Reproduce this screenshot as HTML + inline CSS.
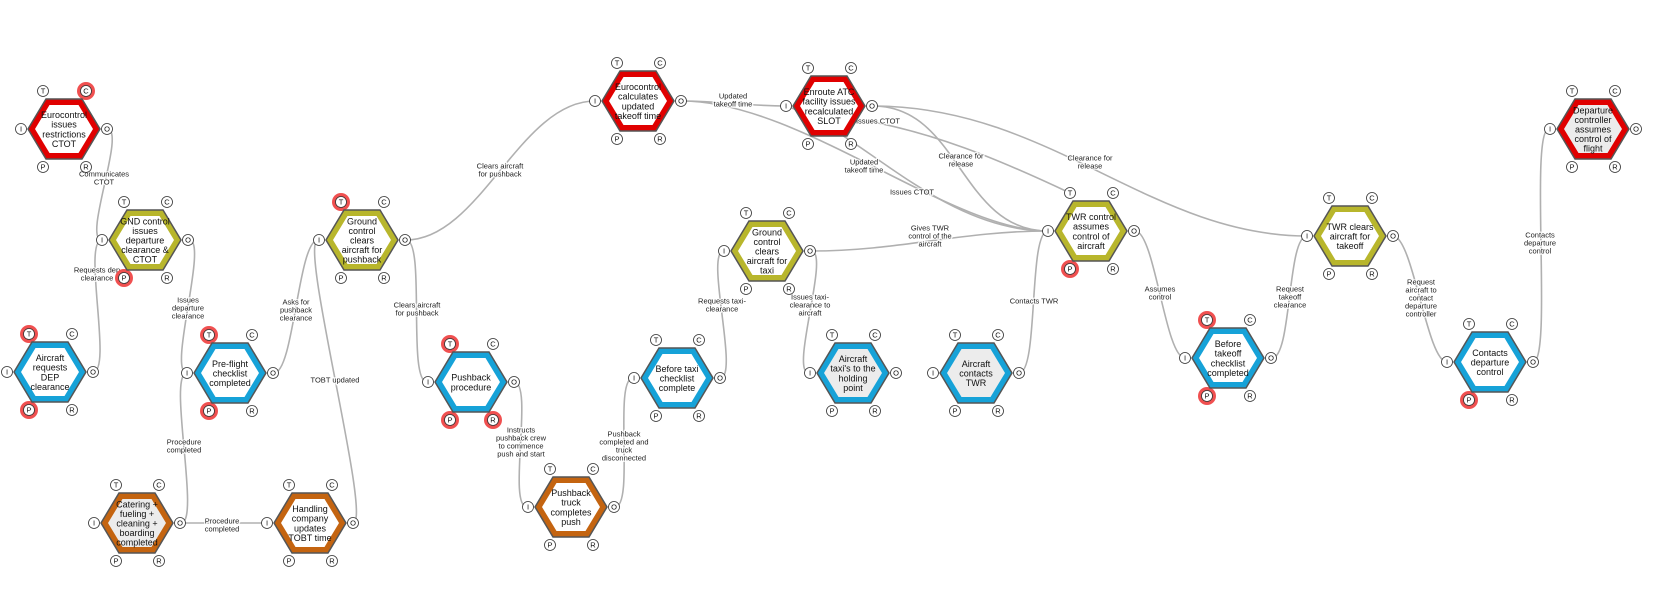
<!DOCTYPE html>
<html><head><meta charset="utf-8"><style>
html,body{margin:0;padding:0;background:#fff;}
svg{display:block;font-family:"Liberation Sans",sans-serif;}
.e{fill:none;stroke:#b0b0b0;stroke-width:1.6;}
.l{font-size:7.5px;fill:#222;text-anchor:middle;stroke:#fff;stroke-width:2.5px;paint-order:stroke;stroke-opacity:.85;}
.t{font-size:9px;fill:#111;text-anchor:middle;}
.pc{fill:#fff;stroke:#333;stroke-width:.8;}
.pt{font-size:7.5px;fill:#111;text-anchor:middle;}
.h{fill:#f05050;}
.ol{stroke:#555;stroke-width:1.5;}
</style></head><body>
<svg width="1663" height="592" viewBox="0 0 1663 592" xmlns="http://www.w3.org/2000/svg">
<defs>
<polygon id="ho" points="-36,0 -18,-30 18,-30 36,0 18,30 -18,30"/>
<polygon id="hi" points="-29,0 -14.5,-24 14.5,-24 29,0 14.5,24 -14.5,24"/>
</defs>

<path class="e" d="M107,129 C127,129 82,240 102,240"/>
<path class="e" d="M93,372 C113,372 82,240 102,240"/>
<path class="e" d="M189,240 C209,240 167,373 187,373"/>
<path class="e" d="M274,373 C294,373 298,240 318,240"/>
<path class="e" d="M181,523 C201,523 167,373 187,373"/>
<path class="e" d="M181,523 C215,523 232,523 266,523"/>
<path class="e" d="M353,523 C373,523 298,240 318,240"/>
<path class="e" d="M406,240 C480,240 520,101 595,101"/>
<path class="e" d="M406,240 C426,240 407,382 427,382"/>
<path class="e" d="M514,382 C534,382 507,507 527,507"/>
<path class="e" d="M615,507 C635,507 613,378 633,378"/>
<path class="e" d="M720,378 C740,378 704,251 724,251"/>
<path class="e" d="M811,251 C831,251 789,373 809,373"/>
<path class="e" d="M811,251 C900,251 960,231 1048,231"/>
<path class="e" d="M682,101 C720,101 748,106 786,106"/>
<path class="e" d="M682,101 C800,101 950,231 1048,231"/>
<path class="e" d="M786,106 C860,130 940,231 1048,231"/>
<path class="e" d="M873,106 C960,106 960,231 1048,231"/>
<path class="e" d="M873,106 C1050,106 1150,236 1307,236"/>
<path class="e" d="M850,118 C930,130 1000,160 1070,193"/>
<path class="e" d="M1019,373 C1039,373 1028,231 1048,231"/>
<path class="e" d="M1135,231 C1155,231 1165,358 1185,358"/>
<path class="e" d="M1272,358 C1292,358 1287,236 1307,236"/>
<path class="e" d="M1393,236 C1413,236 1427,362 1447,362"/>
<path class="e" d="M1533,362 C1553,362 1529,129 1549,129"/>

<text class="l"><tspan x="104" y="176.7">Communicates</tspan><tspan x="104" y="184.7">CTOT</tspan></text>
<text class="l"><tspan x="97" y="272.7">Requests dep</tspan><tspan x="97" y="280.7">clearance</tspan></text>
<text class="l"><tspan x="188" y="302.7">Issues</tspan><tspan x="188" y="310.7">departure</tspan><tspan x="188" y="318.7">clearance</tspan></text>
<text class="l"><tspan x="296" y="304.7">Asks for</tspan><tspan x="296" y="312.7">pushback</tspan><tspan x="296" y="320.7">clearance</tspan></text>
<text class="l"><tspan x="184" y="444.7">Procedure</tspan><tspan x="184" y="452.7">completed</tspan></text>
<text class="l"><tspan x="222" y="523.7">Procedure</tspan><tspan x="222" y="531.7">completed</tspan></text>
<text class="l"><tspan x="335" y="382.7">TOBT updated</tspan></text>
<text class="l"><tspan x="500" y="168.7">Clears aircraft</tspan><tspan x="500" y="176.7">for pushback</tspan></text>
<text class="l"><tspan x="417" y="307.7">Clears aircraft</tspan><tspan x="417" y="315.7">for pushback</tspan></text>
<text class="l"><tspan x="521" y="432.7">Instructs</tspan><tspan x="521" y="440.7">pushback crew</tspan><tspan x="521" y="448.7">to commence</tspan><tspan x="521" y="456.7">push and start</tspan></text>
<text class="l"><tspan x="624" y="436.7">Pushback</tspan><tspan x="624" y="444.7">completed and</tspan><tspan x="624" y="452.7">truck</tspan><tspan x="624" y="460.7">disconnected</tspan></text>
<text class="l"><tspan x="722" y="303.7">Requests taxi-</tspan><tspan x="722" y="311.7">clearance</tspan></text>
<text class="l"><tspan x="810" y="299.7">Issues taxi-</tspan><tspan x="810" y="307.7">clearance to</tspan><tspan x="810" y="315.7">aircraft</tspan></text>
<text class="l"><tspan x="930" y="230.7">Gives TWR</tspan><tspan x="930" y="238.7">control of the</tspan><tspan x="930" y="246.7">aircraft</tspan></text>
<text class="l"><tspan x="733" y="98.7">Updated</tspan><tspan x="733" y="106.7">takeoff time</tspan></text>
<text class="l"><tspan x="864" y="164.7">Updated</tspan><tspan x="864" y="172.7">takeoff time</tspan></text>
<text class="l"><tspan x="912" y="194.7">Issues CTOT</tspan></text>
<text class="l"><tspan x="961" y="158.7">Clearance for</tspan><tspan x="961" y="166.7">release</tspan></text>
<text class="l"><tspan x="1090" y="160.7">Clearance for</tspan><tspan x="1090" y="168.7">release</tspan></text>
<text class="l"><tspan x="878" y="123.7">Issues CTOT</tspan></text>
<text class="l"><tspan x="1034" y="303.7">Contacts TWR</tspan></text>
<text class="l"><tspan x="1160" y="291.7">Assumes</tspan><tspan x="1160" y="299.7">control</tspan></text>
<text class="l"><tspan x="1290" y="291.7">Request</tspan><tspan x="1290" y="299.7">takeoff</tspan><tspan x="1290" y="307.7">clearance</tspan></text>
<text class="l"><tspan x="1421" y="284.7">Request</tspan><tspan x="1421" y="292.7">aircraft to</tspan><tspan x="1421" y="300.7">contact</tspan><tspan x="1421" y="308.7">departure</tspan><tspan x="1421" y="316.7">controller</tspan></text>
<text class="l"><tspan x="1540" y="237.7">Contacts</tspan><tspan x="1540" y="245.7">departure</tspan><tspan x="1540" y="253.7">control</tspan></text>

<g transform="translate(64,129)">
<circle class="h" cx="22" cy="-38" r="9"/>
<use href="#ho" fill="#e00000" class="ol"/><use href="#hi" fill="#fff"/>
<text class="t"><tspan x="0" y="-10.9">Eurocontrol</tspan><tspan x="0" y="-1.3">issues</tspan><tspan x="0" y="8.3">restrictions</tspan><tspan x="0" y="17.9">CTOT</tspan></text>
<g><circle class="pc" cx="-43" cy="0" r="5.5"/><text class="pt" x="-43" y="2.6">I</text><circle class="pc" cx="43" cy="0" r="5.5"/><text class="pt" x="43" y="2.6">O</text><circle class="pc" cx="-21" cy="-38" r="5.5"/><text class="pt" x="-21" y="-35.4">T</text><circle class="pc" cx="22" cy="-38" r="5.5"/><text class="pt" x="22" y="-35.4">C</text><circle class="pc" cx="-21" cy="38" r="5.5"/><text class="pt" x="-21" y="40.6">P</text><circle class="pc" cx="22" cy="38" r="5.5"/><text class="pt" x="22" y="40.6">R</text></g>
</g>
<g transform="translate(145,240)">
<circle class="h" cx="-21" cy="38" r="9"/>
<use href="#ho" fill="#b8b62c" class="ol"/><use href="#hi" fill="#fff"/>
<text class="t"><tspan x="0" y="-15.7">GND control</tspan><tspan x="0" y="-6.1">issues</tspan><tspan x="0" y="3.5">departure</tspan><tspan x="0" y="13.1">clearance &amp;</tspan><tspan x="0" y="22.7">CTOT</tspan></text>
<g><circle class="pc" cx="-43" cy="0" r="5.5"/><text class="pt" x="-43" y="2.6">I</text><circle class="pc" cx="43" cy="0" r="5.5"/><text class="pt" x="43" y="2.6">O</text><circle class="pc" cx="-21" cy="-38" r="5.5"/><text class="pt" x="-21" y="-35.4">T</text><circle class="pc" cx="22" cy="-38" r="5.5"/><text class="pt" x="22" y="-35.4">C</text><circle class="pc" cx="-21" cy="38" r="5.5"/><text class="pt" x="-21" y="40.6">P</text><circle class="pc" cx="22" cy="38" r="5.5"/><text class="pt" x="22" y="40.6">R</text></g>
</g>
<g transform="translate(50,372)">
<circle class="h" cx="-21" cy="-38" r="9"/><circle class="h" cx="-21" cy="38" r="9"/>
<use href="#ho" fill="#16a2d8" class="ol"/><use href="#hi" fill="#fff"/>
<text class="t"><tspan x="0" y="-10.9">Aircraft</tspan><tspan x="0" y="-1.3">requests</tspan><tspan x="0" y="8.3">DEP</tspan><tspan x="0" y="17.9">clearance</tspan></text>
<g><circle class="pc" cx="-43" cy="0" r="5.5"/><text class="pt" x="-43" y="2.6">I</text><circle class="pc" cx="43" cy="0" r="5.5"/><text class="pt" x="43" y="2.6">O</text><circle class="pc" cx="-21" cy="-38" r="5.5"/><text class="pt" x="-21" y="-35.4">T</text><circle class="pc" cx="22" cy="-38" r="5.5"/><text class="pt" x="22" y="-35.4">C</text><circle class="pc" cx="-21" cy="38" r="5.5"/><text class="pt" x="-21" y="40.6">P</text><circle class="pc" cx="22" cy="38" r="5.5"/><text class="pt" x="22" y="40.6">R</text></g>
</g>
<g transform="translate(230,373)">
<circle class="h" cx="-21" cy="-38" r="9"/><circle class="h" cx="-21" cy="38" r="9"/>
<use href="#ho" fill="#16a2d8" class="ol"/><use href="#hi" fill="#fff"/>
<text class="t"><tspan x="0" y="-6.1">Pre-flight</tspan><tspan x="0" y="3.5">checklist</tspan><tspan x="0" y="13.1">completed</tspan></text>
<g><circle class="pc" cx="-43" cy="0" r="5.5"/><text class="pt" x="-43" y="2.6">I</text><circle class="pc" cx="43" cy="0" r="5.5"/><text class="pt" x="43" y="2.6">O</text><circle class="pc" cx="-21" cy="-38" r="5.5"/><text class="pt" x="-21" y="-35.4">T</text><circle class="pc" cx="22" cy="-38" r="5.5"/><text class="pt" x="22" y="-35.4">C</text><circle class="pc" cx="-21" cy="38" r="5.5"/><text class="pt" x="-21" y="40.6">P</text><circle class="pc" cx="22" cy="38" r="5.5"/><text class="pt" x="22" y="40.6">R</text></g>
</g>
<g transform="translate(362,240)">
<circle class="h" cx="-21" cy="-38" r="9"/>
<use href="#ho" fill="#b8b62c" class="ol"/><use href="#hi" fill="#fff"/>
<text class="t"><tspan x="0" y="-15.7">Ground</tspan><tspan x="0" y="-6.1">control</tspan><tspan x="0" y="3.5">clears</tspan><tspan x="0" y="13.1">aircraft for</tspan><tspan x="0" y="22.7">pushback</tspan></text>
<g><circle class="pc" cx="-43" cy="0" r="5.5"/><text class="pt" x="-43" y="2.6">I</text><circle class="pc" cx="43" cy="0" r="5.5"/><text class="pt" x="43" y="2.6">O</text><circle class="pc" cx="-21" cy="-38" r="5.5"/><text class="pt" x="-21" y="-35.4">T</text><circle class="pc" cx="22" cy="-38" r="5.5"/><text class="pt" x="22" y="-35.4">C</text><circle class="pc" cx="-21" cy="38" r="5.5"/><text class="pt" x="-21" y="40.6">P</text><circle class="pc" cx="22" cy="38" r="5.5"/><text class="pt" x="22" y="40.6">R</text></g>
</g>
<g transform="translate(137,523)">
<use href="#ho" fill="#c46410" class="ol"/><use href="#hi" fill="#ececec"/>
<text class="t"><tspan x="0" y="-15.7">Catering +</tspan><tspan x="0" y="-6.1">fueling +</tspan><tspan x="0" y="3.5">cleaning +</tspan><tspan x="0" y="13.1">boarding</tspan><tspan x="0" y="22.7">completed</tspan></text>
<g><circle class="pc" cx="-43" cy="0" r="5.5"/><text class="pt" x="-43" y="2.6">I</text><circle class="pc" cx="43" cy="0" r="5.5"/><text class="pt" x="43" y="2.6">O</text><circle class="pc" cx="-21" cy="-38" r="5.5"/><text class="pt" x="-21" y="-35.4">T</text><circle class="pc" cx="22" cy="-38" r="5.5"/><text class="pt" x="22" y="-35.4">C</text><circle class="pc" cx="-21" cy="38" r="5.5"/><text class="pt" x="-21" y="40.6">P</text><circle class="pc" cx="22" cy="38" r="5.5"/><text class="pt" x="22" y="40.6">R</text></g>
</g>
<g transform="translate(310,523)">
<use href="#ho" fill="#c46410" class="ol"/><use href="#hi" fill="#fff"/>
<text class="t"><tspan x="0" y="-10.9">Handling</tspan><tspan x="0" y="-1.3">company</tspan><tspan x="0" y="8.3">updates</tspan><tspan x="0" y="17.9">TOBT time</tspan></text>
<g><circle class="pc" cx="-43" cy="0" r="5.5"/><text class="pt" x="-43" y="2.6">I</text><circle class="pc" cx="43" cy="0" r="5.5"/><text class="pt" x="43" y="2.6">O</text><circle class="pc" cx="-21" cy="-38" r="5.5"/><text class="pt" x="-21" y="-35.4">T</text><circle class="pc" cx="22" cy="-38" r="5.5"/><text class="pt" x="22" y="-35.4">C</text><circle class="pc" cx="-21" cy="38" r="5.5"/><text class="pt" x="-21" y="40.6">P</text><circle class="pc" cx="22" cy="38" r="5.5"/><text class="pt" x="22" y="40.6">R</text></g>
</g>
<g transform="translate(471,382)">
<circle class="h" cx="-21" cy="-38" r="9"/><circle class="h" cx="-21" cy="38" r="9"/><circle class="h" cx="22" cy="38" r="9"/>
<use href="#ho" fill="#16a2d8" class="ol"/><use href="#hi" fill="#fff"/>
<text class="t"><tspan x="0" y="-1.3">Pushback</tspan><tspan x="0" y="8.3">procedure</tspan></text>
<g><circle class="pc" cx="-43" cy="0" r="5.5"/><text class="pt" x="-43" y="2.6">I</text><circle class="pc" cx="43" cy="0" r="5.5"/><text class="pt" x="43" y="2.6">O</text><circle class="pc" cx="-21" cy="-38" r="5.5"/><text class="pt" x="-21" y="-35.4">T</text><circle class="pc" cx="22" cy="-38" r="5.5"/><text class="pt" x="22" y="-35.4">C</text><circle class="pc" cx="-21" cy="38" r="5.5"/><text class="pt" x="-21" y="40.6">P</text><circle class="pc" cx="22" cy="38" r="5.5"/><text class="pt" x="22" y="40.6">R</text></g>
</g>
<g transform="translate(571,507)">
<use href="#ho" fill="#c46410" class="ol"/><use href="#hi" fill="#fff"/>
<text class="t"><tspan x="0" y="-10.9">Pushback</tspan><tspan x="0" y="-1.3">truck</tspan><tspan x="0" y="8.3">completes</tspan><tspan x="0" y="17.9">push</tspan></text>
<g><circle class="pc" cx="-43" cy="0" r="5.5"/><text class="pt" x="-43" y="2.6">I</text><circle class="pc" cx="43" cy="0" r="5.5"/><text class="pt" x="43" y="2.6">O</text><circle class="pc" cx="-21" cy="-38" r="5.5"/><text class="pt" x="-21" y="-35.4">T</text><circle class="pc" cx="22" cy="-38" r="5.5"/><text class="pt" x="22" y="-35.4">C</text><circle class="pc" cx="-21" cy="38" r="5.5"/><text class="pt" x="-21" y="40.6">P</text><circle class="pc" cx="22" cy="38" r="5.5"/><text class="pt" x="22" y="40.6">R</text></g>
</g>
<g transform="translate(677,378)">
<use href="#ho" fill="#16a2d8" class="ol"/><use href="#hi" fill="#fff"/>
<text class="t"><tspan x="0" y="-6.1">Before taxi</tspan><tspan x="0" y="3.5">checklist</tspan><tspan x="0" y="13.1">complete</tspan></text>
<g><circle class="pc" cx="-43" cy="0" r="5.5"/><text class="pt" x="-43" y="2.6">I</text><circle class="pc" cx="43" cy="0" r="5.5"/><text class="pt" x="43" y="2.6">O</text><circle class="pc" cx="-21" cy="-38" r="5.5"/><text class="pt" x="-21" y="-35.4">T</text><circle class="pc" cx="22" cy="-38" r="5.5"/><text class="pt" x="22" y="-35.4">C</text><circle class="pc" cx="-21" cy="38" r="5.5"/><text class="pt" x="-21" y="40.6">P</text><circle class="pc" cx="22" cy="38" r="5.5"/><text class="pt" x="22" y="40.6">R</text></g>
</g>
<g transform="translate(638,101)">
<use href="#ho" fill="#e00000" class="ol"/><use href="#hi" fill="#fff"/>
<text class="t"><tspan x="0" y="-10.9">Eurocontrol</tspan><tspan x="0" y="-1.3">calculates</tspan><tspan x="0" y="8.3">updated</tspan><tspan x="0" y="17.9">takeoff time</tspan></text>
<g><circle class="pc" cx="-43" cy="0" r="5.5"/><text class="pt" x="-43" y="2.6">I</text><circle class="pc" cx="43" cy="0" r="5.5"/><text class="pt" x="43" y="2.6">O</text><circle class="pc" cx="-21" cy="-38" r="5.5"/><text class="pt" x="-21" y="-35.4">T</text><circle class="pc" cx="22" cy="-38" r="5.5"/><text class="pt" x="22" y="-35.4">C</text><circle class="pc" cx="-21" cy="38" r="5.5"/><text class="pt" x="-21" y="40.6">P</text><circle class="pc" cx="22" cy="38" r="5.5"/><text class="pt" x="22" y="40.6">R</text></g>
</g>
<g transform="translate(829,106)">
<use href="#ho" fill="#e00000" class="ol"/><use href="#hi" fill="#fff"/>
<text class="t"><tspan x="0" y="-10.9">Enroute ATC</tspan><tspan x="0" y="-1.3">facility issues</tspan><tspan x="0" y="8.3">recalculated</tspan><tspan x="0" y="17.9">SLOT</tspan></text>
<g><circle class="pc" cx="-43" cy="0" r="5.5"/><text class="pt" x="-43" y="2.6">I</text><circle class="pc" cx="43" cy="0" r="5.5"/><text class="pt" x="43" y="2.6">O</text><circle class="pc" cx="-21" cy="-38" r="5.5"/><text class="pt" x="-21" y="-35.4">T</text><circle class="pc" cx="22" cy="-38" r="5.5"/><text class="pt" x="22" y="-35.4">C</text><circle class="pc" cx="-21" cy="38" r="5.5"/><text class="pt" x="-21" y="40.6">P</text><circle class="pc" cx="22" cy="38" r="5.5"/><text class="pt" x="22" y="40.6">R</text></g>
</g>
<g transform="translate(767,251)">
<use href="#ho" fill="#b8b62c" class="ol"/><use href="#hi" fill="#fff"/>
<text class="t"><tspan x="0" y="-15.7">Ground</tspan><tspan x="0" y="-6.1">control</tspan><tspan x="0" y="3.5">clears</tspan><tspan x="0" y="13.1">aircraft for</tspan><tspan x="0" y="22.7">taxi</tspan></text>
<g><circle class="pc" cx="-43" cy="0" r="5.5"/><text class="pt" x="-43" y="2.6">I</text><circle class="pc" cx="43" cy="0" r="5.5"/><text class="pt" x="43" y="2.6">O</text><circle class="pc" cx="-21" cy="-38" r="5.5"/><text class="pt" x="-21" y="-35.4">T</text><circle class="pc" cx="22" cy="-38" r="5.5"/><text class="pt" x="22" y="-35.4">C</text><circle class="pc" cx="-21" cy="38" r="5.5"/><text class="pt" x="-21" y="40.6">P</text><circle class="pc" cx="22" cy="38" r="5.5"/><text class="pt" x="22" y="40.6">R</text></g>
</g>
<g transform="translate(853,373)">
<use href="#ho" fill="#16a2d8" class="ol"/><use href="#hi" fill="#ececec"/>
<text class="t"><tspan x="0" y="-10.9">Aircraft</tspan><tspan x="0" y="-1.3">taxi's to the</tspan><tspan x="0" y="8.3">holding</tspan><tspan x="0" y="17.9">point</tspan></text>
<g><circle class="pc" cx="-43" cy="0" r="5.5"/><text class="pt" x="-43" y="2.6">I</text><circle class="pc" cx="43" cy="0" r="5.5"/><text class="pt" x="43" y="2.6">O</text><circle class="pc" cx="-21" cy="-38" r="5.5"/><text class="pt" x="-21" y="-35.4">T</text><circle class="pc" cx="22" cy="-38" r="5.5"/><text class="pt" x="22" y="-35.4">C</text><circle class="pc" cx="-21" cy="38" r="5.5"/><text class="pt" x="-21" y="40.6">P</text><circle class="pc" cx="22" cy="38" r="5.5"/><text class="pt" x="22" y="40.6">R</text></g>
</g>
<g transform="translate(976,373)">
<use href="#ho" fill="#16a2d8" class="ol"/><use href="#hi" fill="#ececec"/>
<text class="t"><tspan x="0" y="-6.1">Aircraft</tspan><tspan x="0" y="3.5">contacts</tspan><tspan x="0" y="13.1">TWR</tspan></text>
<g><circle class="pc" cx="-43" cy="0" r="5.5"/><text class="pt" x="-43" y="2.6">I</text><circle class="pc" cx="43" cy="0" r="5.5"/><text class="pt" x="43" y="2.6">O</text><circle class="pc" cx="-21" cy="-38" r="5.5"/><text class="pt" x="-21" y="-35.4">T</text><circle class="pc" cx="22" cy="-38" r="5.5"/><text class="pt" x="22" y="-35.4">C</text><circle class="pc" cx="-21" cy="38" r="5.5"/><text class="pt" x="-21" y="40.6">P</text><circle class="pc" cx="22" cy="38" r="5.5"/><text class="pt" x="22" y="40.6">R</text></g>
</g>
<g transform="translate(1091,231)">
<circle class="h" cx="-21" cy="38" r="9"/>
<use href="#ho" fill="#b8b62c" class="ol"/><use href="#hi" fill="#fff"/>
<text class="t"><tspan x="0" y="-10.9">TWR control</tspan><tspan x="0" y="-1.3">assumes</tspan><tspan x="0" y="8.3">control of</tspan><tspan x="0" y="17.9">aircraft</tspan></text>
<g><circle class="pc" cx="-43" cy="0" r="5.5"/><text class="pt" x="-43" y="2.6">I</text><circle class="pc" cx="43" cy="0" r="5.5"/><text class="pt" x="43" y="2.6">O</text><circle class="pc" cx="-21" cy="-38" r="5.5"/><text class="pt" x="-21" y="-35.4">T</text><circle class="pc" cx="22" cy="-38" r="5.5"/><text class="pt" x="22" y="-35.4">C</text><circle class="pc" cx="-21" cy="38" r="5.5"/><text class="pt" x="-21" y="40.6">P</text><circle class="pc" cx="22" cy="38" r="5.5"/><text class="pt" x="22" y="40.6">R</text></g>
</g>
<g transform="translate(1228,358)">
<circle class="h" cx="-21" cy="-38" r="9"/><circle class="h" cx="-21" cy="38" r="9"/>
<use href="#ho" fill="#16a2d8" class="ol"/><use href="#hi" fill="#fff"/>
<text class="t"><tspan x="0" y="-10.9">Before</tspan><tspan x="0" y="-1.3">takeoff</tspan><tspan x="0" y="8.3">checklist</tspan><tspan x="0" y="17.9">completed</tspan></text>
<g><circle class="pc" cx="-43" cy="0" r="5.5"/><text class="pt" x="-43" y="2.6">I</text><circle class="pc" cx="43" cy="0" r="5.5"/><text class="pt" x="43" y="2.6">O</text><circle class="pc" cx="-21" cy="-38" r="5.5"/><text class="pt" x="-21" y="-35.4">T</text><circle class="pc" cx="22" cy="-38" r="5.5"/><text class="pt" x="22" y="-35.4">C</text><circle class="pc" cx="-21" cy="38" r="5.5"/><text class="pt" x="-21" y="40.6">P</text><circle class="pc" cx="22" cy="38" r="5.5"/><text class="pt" x="22" y="40.6">R</text></g>
</g>
<g transform="translate(1350,236)">
<use href="#ho" fill="#b8b62c" class="ol"/><use href="#hi" fill="#fff"/>
<text class="t"><tspan x="0" y="-6.1">TWR clears</tspan><tspan x="0" y="3.5">aircraft for</tspan><tspan x="0" y="13.1">takeoff</tspan></text>
<g><circle class="pc" cx="-43" cy="0" r="5.5"/><text class="pt" x="-43" y="2.6">I</text><circle class="pc" cx="43" cy="0" r="5.5"/><text class="pt" x="43" y="2.6">O</text><circle class="pc" cx="-21" cy="-38" r="5.5"/><text class="pt" x="-21" y="-35.4">T</text><circle class="pc" cx="22" cy="-38" r="5.5"/><text class="pt" x="22" y="-35.4">C</text><circle class="pc" cx="-21" cy="38" r="5.5"/><text class="pt" x="-21" y="40.6">P</text><circle class="pc" cx="22" cy="38" r="5.5"/><text class="pt" x="22" y="40.6">R</text></g>
</g>
<g transform="translate(1490,362)">
<circle class="h" cx="-21" cy="38" r="9"/>
<use href="#ho" fill="#16a2d8" class="ol"/><use href="#hi" fill="#fff"/>
<text class="t"><tspan x="0" y="-6.1">Contacts</tspan><tspan x="0" y="3.5">departure</tspan><tspan x="0" y="13.1">control</tspan></text>
<g><circle class="pc" cx="-43" cy="0" r="5.5"/><text class="pt" x="-43" y="2.6">I</text><circle class="pc" cx="43" cy="0" r="5.5"/><text class="pt" x="43" y="2.6">O</text><circle class="pc" cx="-21" cy="-38" r="5.5"/><text class="pt" x="-21" y="-35.4">T</text><circle class="pc" cx="22" cy="-38" r="5.5"/><text class="pt" x="22" y="-35.4">C</text><circle class="pc" cx="-21" cy="38" r="5.5"/><text class="pt" x="-21" y="40.6">P</text><circle class="pc" cx="22" cy="38" r="5.5"/><text class="pt" x="22" y="40.6">R</text></g>
</g>
<g transform="translate(1593,129)">
<use href="#ho" fill="#e00000" class="ol"/><use href="#hi" fill="#ececec"/>
<text class="t"><tspan x="0" y="-15.7">Departure</tspan><tspan x="0" y="-6.1">controller</tspan><tspan x="0" y="3.5">assumes</tspan><tspan x="0" y="13.1">control of</tspan><tspan x="0" y="22.7">flight</tspan></text>
<g><circle class="pc" cx="-43" cy="0" r="5.5"/><text class="pt" x="-43" y="2.6">I</text><circle class="pc" cx="43" cy="0" r="5.5"/><text class="pt" x="43" y="2.6">O</text><circle class="pc" cx="-21" cy="-38" r="5.5"/><text class="pt" x="-21" y="-35.4">T</text><circle class="pc" cx="22" cy="-38" r="5.5"/><text class="pt" x="22" y="-35.4">C</text><circle class="pc" cx="-21" cy="38" r="5.5"/><text class="pt" x="-21" y="40.6">P</text><circle class="pc" cx="22" cy="38" r="5.5"/><text class="pt" x="22" y="40.6">R</text></g>
</g>
</svg>
</body></html>
